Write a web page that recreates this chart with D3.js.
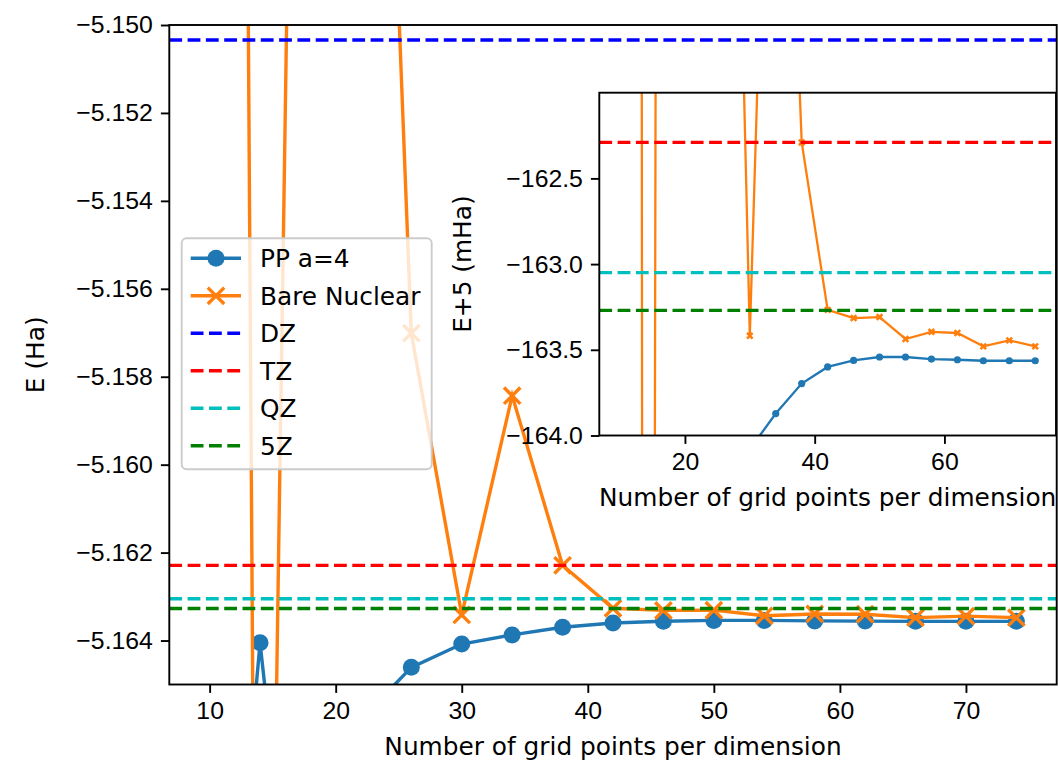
<!DOCTYPE html>
<html lang="en">
<head>
  <meta charset="UTF-8">
  <title>Grid convergence</title>
  <style>
    body { margin: 0; padding: 0; background: #fff; }
    svg { display: block; font-family: "DejaVu Sans", sans-serif; }
    .axis path, .axis line { stroke: #000; stroke-width: 1.9; }
    .axis text { font-size: 24.8px; fill: #000; }
    .lbl { font-size: 24.8px; fill: #000; }
  </style>
</head>
<body>
  <svg id="chart" width="1059" height="760"></svg>

  <script src="https://cdnjs.cloudflare.com/ajax/libs/d3/7.8.5/d3.min.js"></script>
  <script>
  // grid points per dimension
  const gridN = [10, 14, 18, 22, 26, 30, 34, 38, 42, 46, 50, 54, 58, 62, 66, 70, 74];

  // total energy (Ha), pseudopotential a=4
  const ppEnergy = [-5.17700, -5.16405, -5.17450, -5.16580, -5.16461, -5.16408, -5.163872,
                    -5.163697, -5.163600, -5.163562, -5.163542, -5.163542, -5.163554,
                    -5.163558, -5.163564, -5.163564, -5.163564];

  // total energy (Ha), bare nuclear potential
  const bareEnergy = [-5.01800, -5.19000, -5.11400, -5.12750, -5.15701, -5.163418, -5.15843,
                      -5.16229, -5.163267, -5.163315, -5.163309, -5.163437, -5.163395,
                      -5.163402, -5.163480, -5.163445, -5.163480];

  // basis set reference energies (Ha)
  const basisNames  = ["DZ", "TZ", "QZ", "5Z"];
  const basisEnergy = [-5.15034, -5.16229, -5.16305, -5.16327];
  const basisColors = ["#0000ff", "#ff0000", "#00bfbf", "#008000"];

  const mainYTicks  = [-5.150, -5.152, -5.154, -5.156, -5.158, -5.160, -5.162, -5.164];
  const mainXTicks  = [10, 20, 30, 40, 50, 60, 70];
  const insetYTicks = [-162.5, -163.0, -163.5, -164.0];
  const insetXTicks = [20, 40, 60];

  const blue = "#1f77b4", orange = "#ff7f0e";
  const xLabel = "Number of grid points per dimension";

  const svg = d3.select("#chart");
  const defs = svg.append("defs");

  const xDomain = [6.8, 77.2];

  // ---------- main axes ----------
  const M = { left: 169.3, right: 1056.7, top: 25, bottom: 684.5 };
  const x = d3.scaleLinear().domain(xDomain).range([M.left, M.right]);
  const y = d3.scaleLinear().domain([-5.165, -5.150]).range([M.bottom, M.top]);

  defs.append("clipPath").attr("id", "clipMain")
    .append("rect").attr("x", M.left).attr("y", M.top)
    .attr("width", M.right - M.left).attr("height", M.bottom - M.top);

  const ppPts   = gridN.map((n, i) => [n, ppEnergy[i]]);
  const barePts = gridN.map((n, i) => [n, bareEnergy[i]]);

  function xMark(g, cx, cy, r, w, col) {
    g.append("path")
      .attr("d", `M${cx - r},${cy - r}L${cx + r},${cy + r}M${cx - r},${cy + r}L${cx + r},${cy - r}`)
      .attr("stroke", col).attr("stroke-width", w).attr("fill", "none");
  }

  const plot = svg.append("g").attr("clip-path", "url(#clipMain)");
  const line = d3.line().x(d => x(d[0])).y(d => y(d[1]));

  plot.append("path").datum(ppPts).attr("d", line)
    .attr("fill", "none").attr("stroke", blue).attr("stroke-width", 3.4);
  plot.selectAll("circle.pp").data(ppPts).join("circle")
    .attr("class", "pp")
    .attr("cx", d => x(d[0])).attr("cy", d => y(d[1])).attr("r", 8.5)
    .attr("fill", blue);

  plot.append("path").datum(barePts).attr("d", line)
    .attr("fill", "none").attr("stroke", orange).attr("stroke-width", 3.4);
  barePts.forEach(d => xMark(plot, x(d[0]), y(d[1]), 8.2, 3.4, orange));

  basisEnergy.forEach((e, i) => {
    plot.append("line")
      .attr("x1", M.left).attr("x2", M.right)
      .attr("y1", y(e)).attr("y2", y(e))
      .attr("stroke", basisColors[i]).attr("stroke-width", 3.4)
      .attr("stroke-dasharray", "12.8,5.5");
  });

  // frame
  svg.append("rect")
    .attr("x", M.left).attr("y", M.top)
    .attr("width", M.right - M.left).attr("height", M.bottom - M.top)
    .attr("fill", "none").attr("stroke", "#000").attr("stroke-width", 1.9);

  svg.append("g").attr("class", "axis")
    .attr("transform", `translate(0,${M.bottom})`)
    .call(d3.axisBottom(x).tickValues(mainXTicks).tickSize(8.4).tickPadding(8).tickFormat(d3.format("d")))
    .call(g => g.select(".domain").remove());

  svg.append("g").attr("class", "axis")
    .attr("transform", `translate(${M.left},0)`)
    .call(d3.axisLeft(y).tickValues(mainYTicks).tickSize(8.4).tickPadding(8).tickFormat(d3.format(".3f")))
    .call(g => g.select(".domain").remove());

  svg.append("text").attr("class", "lbl")
    .attr("x", (M.left + M.right) / 2).attr("y", 755)
    .attr("text-anchor", "middle").text(xLabel);

  svg.append("text").attr("class", "lbl")
    .attr("transform", `translate(44,${(M.top + M.bottom) / 2}) rotate(-90)`)
    .attr("text-anchor", "middle").text("E (Ha)");

  // ---------- legend ----------
  const legendItems = [
    { name: "PP a=4", color: blue, kind: "circle" },
    { name: "Bare Nuclear", color: orange, kind: "x" }
  ].concat(basisNames.map((n, i) => ({ name: n, color: basisColors[i], kind: "dash" })));

  const leg = svg.append("g");
  leg.append("rect")
    .attr("x", 181.7).attr("y", 238.3).attr("width", 250).attr("height", 231)
    .attr("rx", 5).attr("fill", "#fff").attr("fill-opacity", 0.8)
    .attr("stroke", "#cccccc").attr("stroke-width", 1.9);

  legendItems.forEach((d, i) => {
    const ry = 258.3 + i * 37.5;
    const h = leg.append("g");
    h.append("line").attr("x1", 190.7).attr("x2", 241).attr("y1", ry).attr("y2", ry)
      .attr("stroke", d.color).attr("stroke-width", 3.4)
      .attr("stroke-dasharray", d.kind === "dash" ? "12.8,5.5" : null);
    if (d.kind === "circle") h.append("circle").attr("cx", 216).attr("cy", ry).attr("r", 8.5).attr("fill", d.color);
    if (d.kind === "x") xMark(h, 216, ry, 8.2, 3.4, d.color);
    leg.append("text").attr("class", "lbl")
      .attr("x", 260).attr("y", ry).attr("dy", "0.36em").text(d.name);
  });

  // ---------- inset ----------
  const I = { left: 599.3, right: 1056, top: 92.7, bottom: 435.5 };
  const xi = d3.scaleLinear().domain(xDomain).range([I.left, I.right]);
  const yi = d3.scaleLinear().domain([-164.0, -162.0]).range([I.bottom, I.top]);
  const toMHa = e => (e + 5) * 1000;

  svg.append("rect")
    .attr("x", I.left).attr("y", I.top)
    .attr("width", I.right - I.left).attr("height", I.bottom - I.top)
    .attr("fill", "#fff");

  defs.append("clipPath").attr("id", "clipInset")
    .append("rect").attr("x", I.left).attr("y", I.top)
    .attr("width", I.right - I.left).attr("height", I.bottom - I.top);

  const ip = svg.append("g").attr("clip-path", "url(#clipInset)");
  const iline = d3.line().x(d => xi(d[0])).y(d => yi(toMHa(d[1])));

  ip.append("path").datum(ppPts).attr("d", iline)
    .attr("fill", "none").attr("stroke", blue).attr("stroke-width", 2.3);
  ip.selectAll("circle").data(ppPts).join("circle")
    .attr("cx", d => xi(d[0])).attr("cy", d => yi(toMHa(d[1]))).attr("r", 3.6)
    .attr("fill", blue);

  ip.append("path").datum(barePts).attr("d", iline)
    .attr("fill", "none").attr("stroke", orange).attr("stroke-width", 2.3);
  barePts.forEach(d => xMark(ip, xi(d[0]), yi(toMHa(d[1])), 2.8, 2.6, orange));

  basisEnergy.forEach((e, i) => {
    ip.append("line")
      .attr("x1", I.left).attr("x2", I.right)
      .attr("y1", yi(toMHa(e))).attr("y2", yi(toMHa(e)))
      .attr("stroke", basisColors[i]).attr("stroke-width", 3.4)
      .attr("stroke-dasharray", "12.8,5.5");
  });

  svg.append("rect")
    .attr("x", I.left).attr("y", I.top)
    .attr("width", I.right - I.left).attr("height", I.bottom - I.top)
    .attr("fill", "none").attr("stroke", "#000").attr("stroke-width", 1.9);

  svg.append("g").attr("class", "axis")
    .attr("transform", `translate(0,${I.bottom})`)
    .call(d3.axisBottom(xi).tickValues(insetXTicks).tickSize(8.4).tickPadding(8).tickFormat(d3.format("d")))
    .call(g => g.select(".domain").remove());

  svg.append("g").attr("class", "axis")
    .attr("transform", `translate(${I.left},0)`)
    .call(d3.axisLeft(yi).tickValues(insetYTicks).tickSize(8.4).tickPadding(8).tickFormat(d3.format(".1f")))
    .call(g => g.select(".domain").remove());

  svg.append("text").attr("class", "lbl")
    .attr("x", (I.left + I.right) / 2).attr("y", 506)
    .attr("text-anchor", "middle").text(xLabel);

  svg.append("text").attr("class", "lbl")
    .attr("transform", `translate(471,${(I.top + I.bottom) / 2}) rotate(-90)`)
    .attr("text-anchor", "middle").text("E+5 (mHa)");
  </script>
</body>
</html>
